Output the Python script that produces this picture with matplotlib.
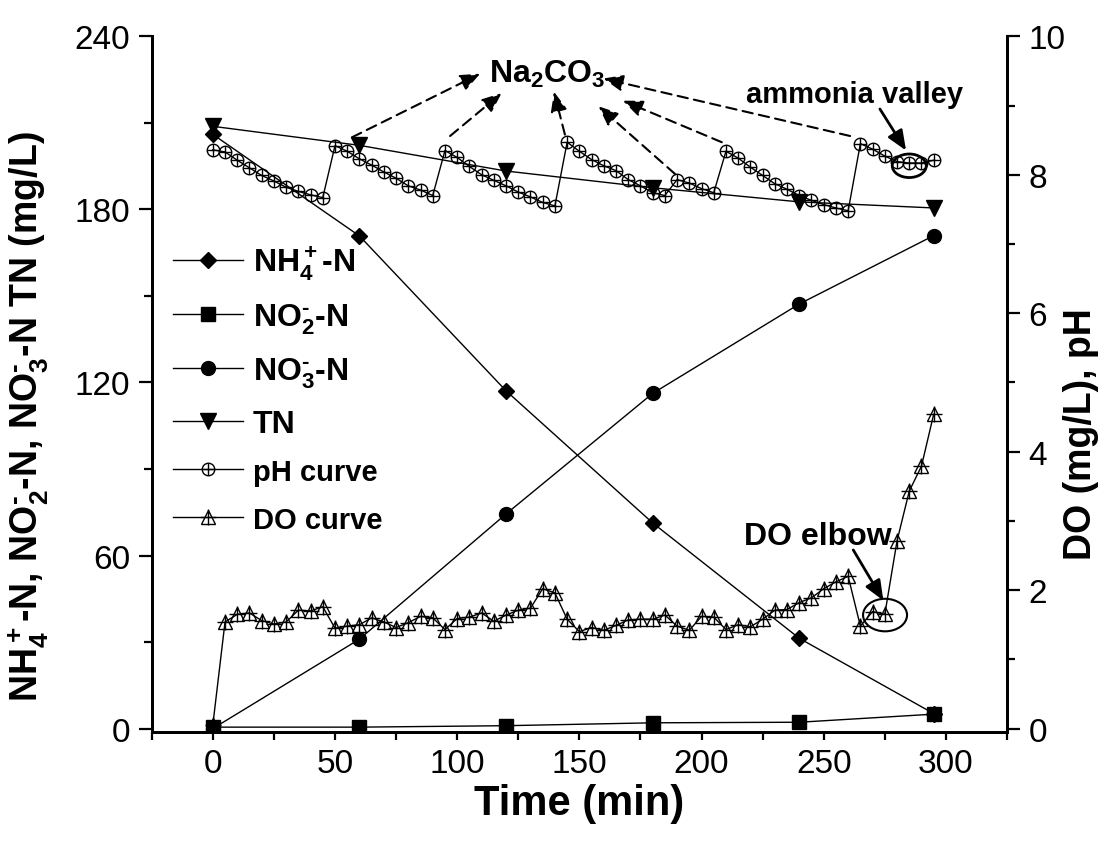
import numpy as np
import matplotlib
matplotlib.use("Agg")
import matplotlib.pyplot as plt
from matplotlib.ticker import MultipleLocator
from matplotlib.patches import Ellipse

# -----------------
# DATA (read off)
# -----------------
# nitrogen species, sampled every hour (min), mg/L
t_n = [0, 60, 120, 180, 240, 295]
nh4 = [206.0, 170.8, 117.1, 71.3, 31.3, 5.2]
no2 = [0.5, 0.5, 1.0, 2.0, 2.2, 5.0]
no3 = [0.0, 31.0, 74.4, 116.2, 147.2, 170.9]
tn = [208.8, 202.2, 193.3, 187.5, 182.6, 180.5]

# online pH and DO, every 5 min
t_online = list(range(0, 300, 5))
ph = [8.36, 8.33, 8.21, 8.10, 7.99, 7.91, 7.82, 7.76, 7.71, 7.67,
      8.42, 8.34, 8.23, 8.14, 8.04, 7.95, 7.84, 7.78, 7.70,
      8.35, 8.25, 8.12, 8.00, 7.92, 7.84, 7.75, 7.68, 7.60, 7.55,
      8.47, 8.34, 8.22, 8.13, 8.06, 7.93, 7.84, 7.74, 7.70,
      7.93, 7.88, 7.80, 7.74,
      8.34, 8.24, 8.11, 7.99, 7.87, 7.79, 7.70, 7.63, 7.57, 7.52, 7.48,
      8.45, 8.37, 8.27, 8.19, 8.17, 8.17, 8.21]
do = [0.05, 1.54, 1.65, 1.67, 1.56, 1.51, 1.54, 1.71, 1.70, 1.76,
      1.45, 1.48, 1.50, 1.60, 1.54, 1.46, 1.53, 1.62, 1.60, 1.43,
      1.59, 1.61, 1.67, 1.55, 1.64, 1.71, 1.74, 2.02, 1.96, 1.58,
      1.40, 1.46, 1.42, 1.49, 1.57, 1.58, 1.58, 1.64, 1.48, 1.42,
      1.62, 1.61, 1.43, 1.50, 1.47, 1.58, 1.71, 1.72, 1.82, 1.89,
      2.02, 2.12, 2.20, 1.48, 1.69, 1.65, 2.71, 3.43, 3.79, 4.54]

# legend / axis text (hyphen kept as text inside the superscript)
lab_nh4 = r"NH$_4^+$-N"
lab_no2 = r"NO$_2^{\text{-}}$-N"
lab_no3 = r"NO$_3^{\text{-}}$-N"

# ---------------
# FONT SETTINGS
# ---------------
plt.rcParams["font.family"] = ["Liberation Sans", "DejaVu Sans"]
plt.rcParams["mathtext.fontset"] = "custom"
plt.rcParams["mathtext.rm"] = "Liberation Sans:bold"
plt.rcParams["mathtext.it"] = "Liberation Sans:bold"
plt.rcParams["mathtext.bf"] = "Liberation Sans:bold"
plt.rcParams["mathtext.sf"] = "Liberation Sans:bold"
plt.rcParams["mathtext.default"] = "rm"

# -----------
# THE FIGURE
# -----------
fig = plt.figure(figsize=(11.05, 8.54), dpi=100)
ax = fig.add_axes([0.1373, 0.1413, 0.774, 0.815])
ax2 = ax.twinx()

k = "black"
h_nh4, = ax.plot(t_n, nh4, color=k, lw=1, marker="D", ms=8.5)
h_no2, = ax.plot(t_n, no2, color=k, lw=1, marker="s", ms=10)
h_no3, = ax.plot(t_n, no3, color=k, lw=1, marker="o", ms=10)
h_tn, = ax.plot(t_n, tn, color=k, lw=1, marker="v", ms=11)

h_ph, = ax2.plot(t_online, ph, color=k, lw=1, marker="o", ms=9, mfc="none", mew=1)
h_ph2, = ax2.plot(t_online, ph, ls="none", color=k, marker="+", ms=9, mew=1)
h_do, = ax2.plot(t_online, do, color=k, lw=1, marker="^", ms=10, mfc="none", mew=1)
h_do2, = ax2.plot(t_online, do, ls="none", color=k, marker="+", ms=11, mew=1)

# ------
# AXES
# ------
ax.set_xlim(-25, 325)
ax.set_ylim(-1.3, 240)
ax2.set_ylim(np.array(ax.get_ylim()) / 24.0)

ax.xaxis.set_major_locator(MultipleLocator(50))
ax.xaxis.set_minor_locator(MultipleLocator(25))
ax.yaxis.set_major_locator(MultipleLocator(60))
ax.yaxis.set_minor_locator(MultipleLocator(30))
ax2.yaxis.set_major_locator(MultipleLocator(2))
ax2.yaxis.set_minor_locator(MultipleLocator(1))

for a in (ax, ax2):
    a.spines["top"].set_visible(False)
    for s in ("left", "right", "bottom"):
        a.spines[s].set_linewidth(2)
    a.tick_params(which="both", direction="out", width=1.6, labelsize=24, pad=6)
    a.tick_params(axis="y", which="major", length=9.5)
    a.tick_params(axis="y", which="minor", length=5.5)
    a.tick_params(axis="x", which="both", length=5.5)

ax.set_xlabel("Time (min)", fontsize=30, fontweight="bold", labelpad=3)
ax.set_ylabel(lab_nh4 + ", " + lab_no2 + ", " + lab_no3 + " TN (mg/L)",
              fontsize=27, fontweight="bold")
ax.yaxis.set_label_coords(-0.118, 0.455)
ax2.set_ylabel("DO (mg/L), pH", fontsize=27, fontweight="bold")
ax2.yaxis.set_label_coords(1.066, 0.43)

# --------
# LEGEND
# --------
leg = ax2.legend([h_nh4, h_no2, h_no3, h_tn, (h_ph, h_ph2), (h_do, h_do2)],
                 [lab_nh4, lab_no2, lab_no3, "TN", "pH curve", "DO curve"],
                 loc="upper left", bbox_to_anchor=(-0.009, 0.742), frameon=False,
                 prop={"weight": "bold", "size": 23}, handlelength=2.2,
                 handletextpad=0.3, labelspacing=0.6, borderpad=0.4)
for txt in leg.get_texts()[4:]:
    txt.set_fontsize(21)

# -------------
# ANNOTATIONS
# -------------
bold = dict(fontweight="bold", color=k)
ax2.text(136.8, 9.34, r"Na$_2$CO$_3$", ha="center", va="baseline", fontsize=23, **bold)
ax2.text(262.8, 9.17, "ammonia valley", ha="center", va="center", fontsize=21, **bold)
ax2.text(247.5, 2.66, "DO elbow", ha="center", va="baseline", fontsize=23, **bold)

dash_tails = [(56.9, 8.54), (97.1, 8.56), (144.1, 8.58), (189.2, 8.01), (208.3, 8.47), (260.8, 8.56)]
dash_heads = [(109.4, 9.46), (118.2, 9.18), (139.6, 9.20), (157.8, 8.99), (167.8, 9.07), (159.8, 9.39)]
for tail, head in zip(dash_tails, dash_heads):
    ax2.annotate("", xy=head, xytext=tail,
                 arrowprops=dict(arrowstyle="-|>,head_length=0.6,head_width=0.25",
                                 ls=(0, (5, 3)), lw=1.5, color=k, mutation_scale=20,
                                 shrinkA=0, shrinkB=0))

ax2.annotate("", xy=(283.7, 8.35), xytext=(273.0, 8.95),
             arrowprops=dict(arrowstyle="-|>,head_length=0.6,head_width=0.25",
                             lw=2, color=k, mutation_scale=20, shrinkA=0, shrinkB=0))
ax2.annotate("", xy=(274.4, 1.85), xytext=(262.1, 2.58),
             arrowprops=dict(arrowstyle="-|>,head_length=0.6,head_width=0.25",
                             lw=2, color=k, mutation_scale=20, shrinkA=0, shrinkB=0))

ax2.add_patch(Ellipse((285.0, 8.13), 13.9, 0.34, fill=False, lw=2, color=k))
ax2.add_patch(Ellipse((275.1, 1.64), 18.0, 0.47, fill=False, lw=1.5, color=k))

fig.savefig("out.png", dpi=100)
